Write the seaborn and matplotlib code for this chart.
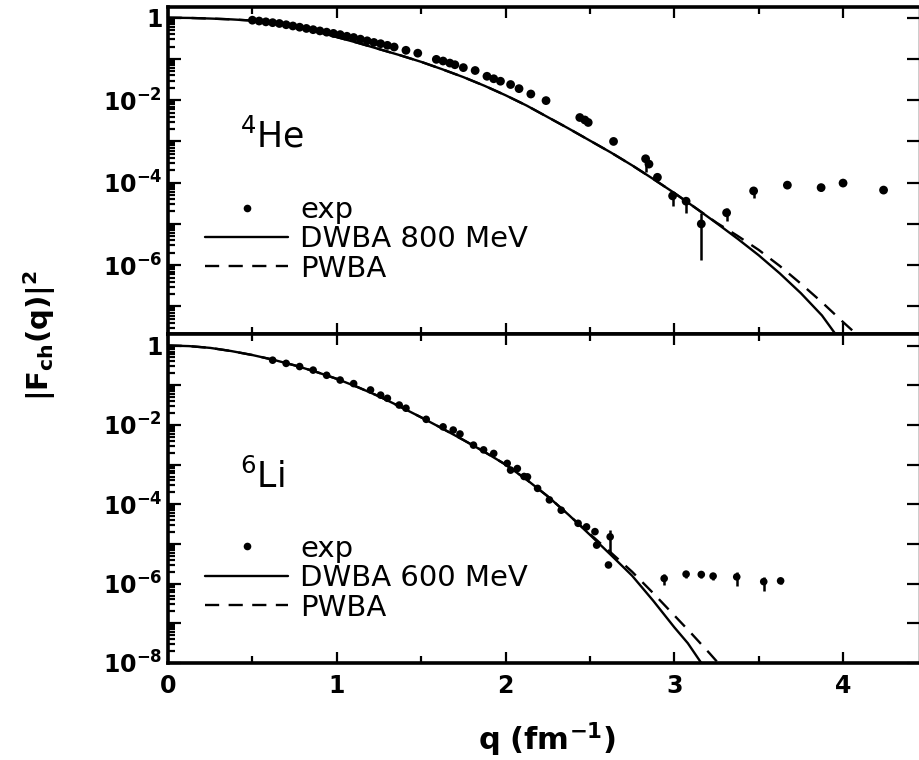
import numpy as np
import matplotlib
matplotlib.use("Agg")
import matplotlib.pyplot as plt
import seaborn as sns
from matplotlib.lines import Line2D
from matplotlib.ticker import LogLocator, FixedLocator, FuncFormatter, MultipleLocator

# ---- 4He : theory curves (q in fm^-1, log10 |F|^2)
he_q_dwba = [0.0, 0.125, 0.25, 0.375, 0.5, 0.625, 0.75, 0.875, 1.0, 1.125, 1.25, 1.375, 1.5, 1.625,
             1.75, 1.875, 2.0, 2.125, 2.25, 2.375, 2.5, 2.625, 2.75, 2.875, 3.0, 3.125, 3.25, 3.375,
             3.5, 3.625, 3.75, 3.875, 3.96]
he_dwba = [0.0, -0.005, -0.02, -0.04, -0.07, -0.13, -0.21, -0.33, -0.47, -0.61, -0.76, -0.91, -1.07, -1.25,
           -1.44, -1.65, -1.88, -2.13, -2.41, -2.69, -2.98, -3.27, -3.58, -3.91, -4.25, -4.61, -4.98, -5.36,
           -5.76, -6.20, -6.68, -7.22, -7.70]
he_q_pwba = [0.0, 0.125, 0.25, 0.375, 0.5, 0.625, 0.75, 0.875, 1.0, 1.125, 1.25, 1.375, 1.5, 1.625,
             1.75, 1.875, 2.0, 2.125, 2.25, 2.375, 2.5, 2.625, 2.75, 2.875, 3.0, 3.125, 3.25, 3.375,
             3.5, 3.625, 3.75, 3.875, 4.0, 4.1]
he_pwba = [0.0, -0.005, -0.02, -0.04, -0.07, -0.13, -0.21, -0.33, -0.47, -0.61, -0.76, -0.91, -1.07, -1.25,
           -1.44, -1.65, -1.88, -2.13, -2.41, -2.69, -2.98, -3.27, -3.58, -3.91, -4.25, -4.61, -4.97, -5.29,
           -5.63, -6.02, -6.45, -6.90, -7.38, -7.75]

# 4He : experiment
he_exp_q = [0.50, 0.54, 0.58, 0.62, 0.66, 0.70, 0.74, 0.78, 0.82, 0.86, 0.90, 0.94, 0.98, 1.02, 1.06,
            1.10, 1.14, 1.18, 1.22, 1.26, 1.30, 1.34, 1.41, 1.48, 1.59, 1.63, 1.67, 1.70, 1.75, 1.82,
            1.89, 1.93, 1.97, 2.03, 2.08, 2.15, 2.24, 2.44, 2.47, 2.49, 2.64, 2.83, 2.85, 2.90, 2.99,
            3.07, 3.16, 3.31, 3.47, 3.67, 3.87, 4.00, 4.24]
he_exp = [-0.06, -0.08, -0.10, -0.12, -0.14, -0.17, -0.20, -0.23, -0.26, -0.29, -0.32, -0.35, -0.38, -0.41, -0.45,
          -0.48, -0.52, -0.56, -0.60, -0.63, -0.67, -0.71, -0.79, -0.86, -1.01, -1.05, -1.10, -1.14, -1.21, -1.28,
          -1.42, -1.48, -1.54, -1.62, -1.72, -1.85, -2.01, -2.42, -2.48, -2.54, -3.00, -3.42, -3.55, -3.87, -4.32,
          -4.45, -5.00, -4.73, -4.20, -4.06, -4.12, -4.01, -4.18]
he_err_q = [2.83, 2.99, 3.07, 3.16, 3.31, 3.47, 3.67, 3.87]
he_err_lo = [-3.75, -4.57, -4.73, -5.88, -4.94, -4.36, -4.12, -4.20]
he_err_hi = [-3.35, -4.25, -4.40, -4.73, -4.61, -4.12, -4.00, -4.05]

# ---- 6Li : theory curves
li_q_dwba = [0.0, 0.125, 0.25, 0.375, 0.5, 0.625, 0.75, 0.875, 1.0, 1.125, 1.25, 1.375, 1.5, 1.625,
             1.75, 1.875, 2.0, 2.125, 2.25, 2.375, 2.5, 2.625, 2.75, 2.875, 3.0, 3.08, 3.16]
li_dwba = [0.0, -0.015, -0.06, -0.14, -0.24, -0.36, -0.50, -0.66, -0.84, -1.05, -1.28, -1.54, -1.81, -2.09,
           -2.38, -2.68, -3.00, -3.38, -3.80, -4.27, -4.77, -5.28, -5.80, -6.43, -7.10, -7.50, -8.00]
li_q_pwba = [0.0, 0.125, 0.25, 0.375, 0.5, 0.625, 0.75, 0.875, 1.0, 1.125, 1.25, 1.375, 1.5, 1.625,
             1.75, 1.875, 2.0, 2.125, 2.25, 2.375, 2.5, 2.625, 2.75, 2.875, 3.0, 3.1, 3.21, 3.26]
li_pwba = [0.0, -0.015, -0.06, -0.14, -0.24, -0.36, -0.50, -0.66, -0.84, -1.05, -1.28, -1.54, -1.81, -2.09,
           -2.38, -2.68, -3.00, -3.38, -3.80, -4.27, -4.75, -5.22, -5.70, -6.24, -6.80, -7.25, -7.76, -8.00]

# 6Li : experiment
li_exp_q = [0.62, 0.70, 0.78, 0.86, 0.94, 1.02, 1.10, 1.20, 1.26, 1.30, 1.37, 1.41, 1.53, 1.63, 1.69,
            1.73, 1.81, 1.87, 1.93, 2.01, 2.03, 2.07, 2.11, 2.13, 2.19, 2.26, 2.33, 2.43, 2.48, 2.53,
            2.54, 2.61, 2.62, 2.94, 3.07, 3.16, 3.23, 3.37, 3.53, 3.63]
li_exp = [-0.37, -0.45, -0.53, -0.62, -0.75, -0.87, -0.96, -1.12, -1.25, -1.33, -1.50, -1.58, -1.86, -2.05, -2.13,
          -2.23, -2.51, -2.63, -2.72, -2.97, -3.14, -3.10, -3.30, -3.31, -3.60, -3.89, -4.15, -4.48, -4.57, -4.69,
          -5.03, -5.53, -4.82, -5.87, -5.76, -5.77, -5.81, -5.83, -5.95, -5.93]
li_err_q = [2.62, 2.94, 3.07, 3.16, 3.23, 3.37, 3.53, 3.63]
li_err_lo = [-5.24, -6.04, -5.86, -5.85, -5.90, -6.06, -6.18, -6.02]
li_err_hi = [-4.65, -5.75, -5.68, -5.70, -5.74, -5.70, -5.83, -5.85]

sns.set_style("ticks")
plt.rcParams["font.family"] = ["DejaVu Sans"]
plt.rcParams["mathtext.fontset"] = "dejavusans"
plt.rcParams["lines.dashed_pattern"] = [6.0, 4.0]
for key in ["text.color", "axes.labelcolor", "xtick.color", "ytick.color", "axes.edgecolor"]:
    plt.rcParams[key] = "black"

fig = plt.figure(figsize=(9.2, 7.6), dpi=100)
W, H = 920.0, 760.0
x0, x1 = 168 / W, 919 / W
ax1 = fig.add_axes([x0, 1 - 334 / H, x1 - x0, (334 - 7) / H])
ax2 = fig.add_axes([x0, 1 - 663 / H, x1 - x0, (663 - 334) / H])


def tick_label(v, pos):
    k = int(round(np.log10(v)))
    if k % 2:
        return ""
    if k == 0:
        return r"$\mathbf{1}$"
    return r"$\mathbf{10^{%d}}$" % k


def draw_panel(ax, q_dw, dw, q_pw, pw, q_exp, exp, eq, elo, ehi, ylim, name, label_y,
               energy, dot, leg_y):
    sns.lineplot(x=q_dw, y=10 ** np.array(dw), ax=ax, color="black", lw=1.7,
                 sort=False, estimator=None)
    sns.lineplot(x=q_pw, y=10 ** np.array(pw), ax=ax, color="black", lw=1.7,
                 linestyle="--", sort=False, estimator=None)
    ax.vlines(eq, 10 ** np.array(elo), 10 ** np.array(ehi), color="black", lw=1.8)
    sns.scatterplot(x=q_exp, y=10 ** np.array(exp), ax=ax, color="black", s=dot,
                    edgecolor="none", marker="o", zorder=3)

    ax.set_yscale("log")
    ax.set_xlim(0, 4.45)
    ax.set_ylim(10 ** ylim[0], 10 ** ylim[1])
    kmin = int(np.ceil(ylim[0]))
    ax.yaxis.set_major_locator(FixedLocator([10.0 ** k for k in range(kmin, 1)]))
    ax.yaxis.set_minor_locator(LogLocator(base=10, subs=np.arange(2, 10), numticks=100))
    ax.yaxis.set_major_formatter(FuncFormatter(tick_label))
    ax.yaxis.set_minor_formatter(FuncFormatter(lambda v, p: ""))
    ax.xaxis.set_major_locator(MultipleLocator(1))
    ax.xaxis.set_minor_locator(MultipleLocator(0.5))
    ax.xaxis.set_major_formatter(FuncFormatter(lambda v, p: r"$\mathbf{%d}$" % round(v)))

    ax.tick_params(axis="both", which="both", direction="in", top=True, right=True,
                   width=1.6, labelsize=17, colors="black")
    ax.tick_params(axis="y", which="major", length=9, pad=4)
    ax.tick_params(axis="y", which="minor", length=5, right=False)
    ax.tick_params(axis="x", which="major", length=8, pad=8)
    ax.tick_params(axis="x", which="minor", length=5)
    ax.set_xlabel("")
    ax.set_ylabel("")
    for side in ["left", "top", "bottom"]:
        ax.spines[side].set_linewidth(2.6)
    ax.spines["right"].set_linewidth(1.0)

    ax.text(0.096, label_y, name, transform=ax.transAxes, fontsize=25,
            va="baseline", ha="left")

    handles = [Line2D([], [], marker="o", ls="none", color="black", ms=5.5, mec="none"),
               Line2D([], [], color="black", lw=1.7),
               Line2D([], [], color="black", lw=1.7, ls="--")]
    ax.legend(handles, ["exp", "DWBA %s MeV" % energy, "PWBA"], loc="center left",
              bbox_to_anchor=(0.049, leg_y), frameon=False, fontsize=21,
              handlelength=2.86, handletextpad=0.41, labelspacing=0.05,
              borderpad=0, borderaxespad=0)


draw_panel(ax1, he_q_dwba, he_dwba, he_q_pwba, he_pwba, he_exp_q, he_exp,
           he_err_q, he_err_lo, he_err_hi, (-7.67, 0.26), r"$^{4}$He", 0.569, "800", 40, 0.29)
draw_panel(ax2, li_q_dwba, li_dwba, li_q_pwba, li_pwba, li_exp_q, li_exp,
           li_err_q, li_err_lo, li_err_hi, (-8.0, 0.29), r"$^{6}$Li", 0.532, "600", 30, 0.258)
ax1.tick_params(axis="x", labelbottom=False)

fig.text(0.043, 0.559, r"$\mathbf{|F_{ch}(q)|^{2}}$", rotation=90, fontsize=21,
         ha="center", va="center")
fig.text(0.595, 0.026, r"$\mathbf{q\ (fm^{-1})}$", fontsize=22, ha="center", va="center")

fig.savefig("out.png", dpi=100)
